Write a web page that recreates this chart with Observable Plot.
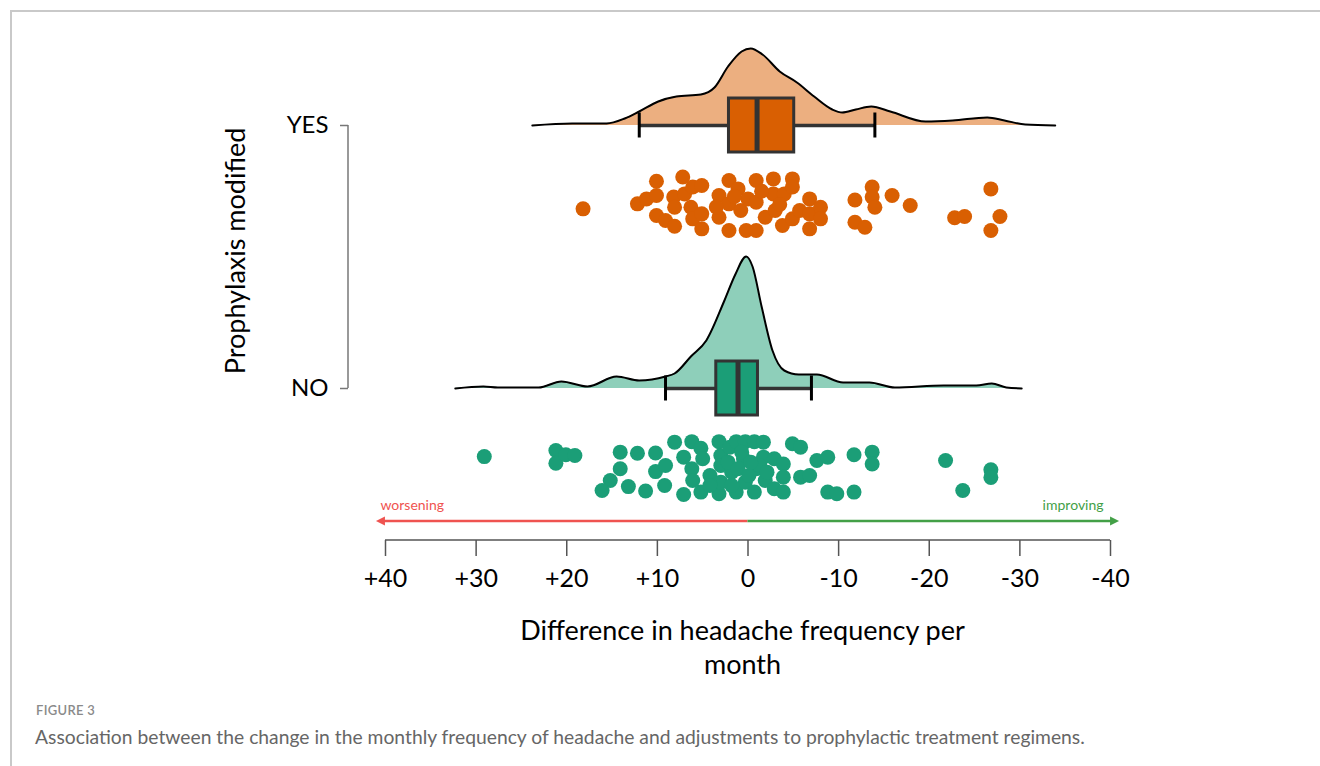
<!DOCTYPE html>
<html><head><meta charset="utf-8">
<script src="https://cdn.jsdelivr.net/npm/d3@7"></script>
<script src="https://cdn.jsdelivr.net/npm/@observablehq/plot@0.6"></script>
<style>
html,body{margin:0;padding:0;background:#fff;}
body{width:1320px;height:766px;position:relative;overflow:hidden;font-family:Lato,sans-serif;}
#frame{position:absolute;left:10px;top:10px;width:1330px;height:780px;border-top:2px solid #c9c9c9;border-left:2px solid #c9c9c9;}
#chart{position:absolute;left:0;top:0;}
#fig{position:absolute;left:36px;top:702px;font-size:13px;font-weight:600;color:#8a8a8a;letter-spacing:0.3px;}
#cap{position:absolute;left:35px;top:725px;font-size:19.3px;color:#666;white-space:nowrap;}
</style></head><body>
<div id="frame"></div>
<div id="chart"></div>
<div id="fig">FIGURE 3</div>
<div id="cap">Association between the change in the monthly frequency of headache and adjustments to prophylactic treatment regimens.</div>
<script>
// ---- data ----
const groups = ["YES", "NO"];
const groupLevels = [1, 0];
const xTicks = [40, 30, 20, 10, 0, -10, -20, -30, -40];
const xTickLabels = ["+40", "+30", "+20", "+10", "0", "-10", "-20", "-30", "-40"];
const xTitle = "Difference in headache frequency per\nmonth";
const yTitle = "Prophylaxis modified";

// individual patients (difference per month) and their vertical jitter (offset below row)
const yesDiff = [18.2, 12.2, 11.2, 10.1, 10.1, 10.1, 9.1, 8.2, 8.1, 8.1, 7.2, 7.0, 6.3, 6.1, 6.1, 5.1, 5.1, 5.1, 3.2, 3.2, 2.1, 2.1, 2.1, 1.1, 0.8, 0.2, 0.0, -0.9, -0.9, -0.9, -1.9, -2.8, -2.8, -3.0, -3.8, -4.0, -4.9, -4.9, -4.9, -5.7, -6.8, -6.8, -6.8, -8.0, -8.0, -11.8, -11.8, -12.9, -13.7, -13.7, -14.0, -15.9, -17.9, -22.8, -23.9, -26.8, -27.8, -26.8, 1.5, -1.5, 3.5, -3.5];
const yesJitter = [-0.317, -0.298, -0.279, -0.212, -0.266, -0.342, -0.361, -0.272, -0.311, -0.383, -0.196, -0.260, -0.311, -0.234, -0.355, -0.228, -0.336, -0.393, -0.266, -0.349, -0.209, -0.298, -0.399, -0.241, -0.323, -0.399, -0.279, -0.209, -0.292, -0.399, -0.349, -0.203, -0.260, -0.323, -0.380, -0.260, -0.203, -0.234, -0.355, -0.323, -0.279, -0.336, -0.393, -0.311, -0.355, -0.283, -0.368, -0.387, -0.234, -0.272, -0.311, -0.266, -0.304, -0.351, -0.346, -0.241, -0.346, -0.399, -0.27, -0.25, -0.31, -0.30];
const noDiff = [29.1, 21.2, 21.2, 20.1, 19.1, 14.1, 14.1, 15.2, 16.1, 13.2, 12.2, 11.3, 10.2, 10.2, 9.1, 9.2, 8.1, 7.1, 7.1, 6.2, 6.2, 6.1, 5.2, 5.0, 5.2, 4.2, 3.2, 3.2, 3.0, 3.0, 3.0, 2.0, 1.8, 1.3, 1.3, 0.5, 0.3, 0.3, -0.7, -0.7, -0.9, -1.7, -1.7, -1.9, -2.9, -2.9, -3.9, -3.9, -3.9, -4.9, -5.8, -5.8, -6.8, -7.6, -8.8, -8.8, -9.8, -11.7, -11.7, -13.7, -13.7, -21.8, -23.7, -26.8, -26.8, 2.2, 1.1, -0.1, -1.3, 0.7, 1.8, -0.3, 4.2, -2.1];
const noJitter = [-0.259, -0.236, -0.284, -0.252, -0.255, -0.242, -0.305, -0.350, -0.388, -0.373, -0.246, -0.390, -0.245, -0.316, -0.293, -0.369, -0.204, -0.261, -0.403, -0.202, -0.305, -0.350, -0.227, -0.267, -0.394, -0.331, -0.202, -0.400, -0.255, -0.293, -0.356, -0.223, -0.318, -0.202, -0.394, -0.267, -0.202, -0.356, -0.202, -0.394, -0.305, -0.204, -0.261, -0.350, -0.267, -0.381, -0.287, -0.337, -0.394, -0.210, -0.223, -0.337, -0.331, -0.274, -0.261, -0.394, -0.400, -0.252, -0.394, -0.242, -0.287, -0.274, -0.388, -0.309, -0.338, -0.280, -0.305, -0.331, -0.293, -0.242, -0.369, -0.280, -0.369, -0.318];

// density curves (x = difference, h = curve height)
const yesDensX = [23.8, 19.4, 15.6, 13.6, 12.0, 9.9, 7.9, 5.2, 3.7, 2.2, 0.7, -0.3, -1.6, -3.5, -5.4, -7.3, -9.3, -10.4, -11.9, -13.6, -15.7, -19.6, -22.6, -26.4, -28.3, -30.6, -33.9];
const yesDensH = [0, 2, 2, 7, 14, 24, 29, 31, 38, 59, 74, 77, 71, 54, 43, 29, 16, 13, 16, 19, 14, 4, 5, 8, 5, 1, 0];
const noDensX = [32.3, 29.2, 27.6, 23.1, 20.6, 17.7, 14.5, 12.0, 9.1, 8.1, 6.3, 4.6, 2.6, 1.4, 0.2, -0.5, -1.5, -2.7, -4.0, -5.6, -7.6, -10.5, -13.4, -16.2, -21.6, -25.2, -26.9, -28.5, -30.2];
const noDensH = [0, 2, 1, 1, 7, 2, 12, 8, 12, 15, 32, 48, 88, 114, 132, 122, 82, 38, 18, 14, 14, 6, 6, 1, 3, 3, 5, 1, 0];

// box-plot statistics per group (YES, NO)
const boxQ1 = [2.1, 3.5];
const boxMedian = [-1.0, 1.1];
const boxQ3 = [-5.1, -1.1];
const whiskerLow = [12.0, 9.1];
const whiskerHigh = [-14.0, -7.0];

// direction arrows
const arrowLabels = ["worsening", "improving"];
const arrowFrom = [0, 0];
const arrowTo = [41, -41];

// ---- styles ----
const darkColors = ["#D95F02", "#1B9E77"];
const lightColors = ["#ECAF80", "#8ECFBA"];
const arrowColors = ["#EF5350", "#43A047"];
const densityUnit = 1 / 263;
const boxHalf = 27 / 263;
const capHalf = 12.5 / 263;

const diffs = [yesDiff, noDiff];
const jitters = [yesJitter, noJitter];
const densX = [yesDensX, noDensX];
const densH = [yesDensH, noDensH];

const marks = [];
groups.forEach((g, i) => {
  const level = groupLevels[i];
  const dens = densX[i].map((x, j) => ({diff: x, base: level, top: level + densH[i][j] * densityUnit}));
  const stat = [{q1: boxQ1[i], med: boxMedian[i], q3: boxQ3[i], lo: whiskerLow[i], hi: whiskerHigh[i], level}];
  const pts = diffs[i].map((d, j) => ({diff: d, y: level + jitters[i][j]}));
  marks.push(
    Plot.areaY(dens, {x: "diff", y1: "base", y2: "top", fill: lightColors[i], curve: "monotone-x"}),
    Plot.line(dens, {x: "diff", y: "top", stroke: "black", strokeWidth: 2, curve: "monotone-x"}),
    Plot.ruleY(stat, {x1: "lo", x2: "hi", y: "level", stroke: "#333", strokeWidth: 3.5}),
    Plot.ruleX(stat, {x: "lo", y1: d => d.level - capHalf, y2: d => d.level + capHalf, stroke: "black", strokeWidth: 3}),
    Plot.ruleX(stat, {x: "hi", y1: d => d.level - capHalf, y2: d => d.level + capHalf, stroke: "black", strokeWidth: 3}),
    Plot.rect(stat, {x1: "q1", x2: "q3", y1: d => d.level - boxHalf, y2: d => d.level + boxHalf, fill: darkColors[i], stroke: "#333", strokeWidth: 3}),
    Plot.ruleX(stat, {x: "med", y1: d => d.level - boxHalf, y2: d => d.level + boxHalf, stroke: "#333", strokeWidth: 5}),
    Plot.dot(pts, {x: "diff", y: "y", r: 7.5, fill: darkColors[i]})
  );
});

const arrows = arrowLabels.map((l, i) => ({label: l, from: arrowFrom[i], to: arrowTo[i], color: arrowColors[i]}));

marks.push(
  (index, scales, values, dims) => {
    const x = scales.x, y = scales.y;
    const g = d3.create("svg:g");
    const axisY = dims.height - dims.marginBottom;
    g.append("line")
      .attr("x1", dims.marginLeft).attr("x2", dims.marginLeft)
      .attr("y1", y(groupLevels[0])).attr("y2", y(groupLevels[1]))
      .attr("stroke", "#777").attr("stroke-width", 1.5);
    g.append("line")
      .attr("x1", x(xTicks[0])).attr("x2", x(xTicks[xTicks.length - 1]))
      .attr("y1", axisY).attr("y2", axisY)
      .attr("stroke", "#555").attr("stroke-width", 1.5);
    const ay = axisY - 19;
    arrows.forEach(a => {
      const x0 = x(a.from), x1 = x(a.to);
      const s = Math.sign(x1 - x0);
      g.append("line").attr("x1", x0).attr("x2", x1 - s * 6).attr("y1", ay).attr("y2", ay)
        .attr("stroke", a.color).attr("stroke-width", 2.5);
      g.append("path")
        .attr("d", `M${x1},${ay}L${x1 - s * 9},${ay - 4.5}L${x1 - s * 9},${ay + 4.5}Z`)
        .attr("fill", a.color);
    });
    return g.node();
  },
  Plot.text([arrows[0]], {x: "to", text: "label", frameAnchor: "bottom", dy: -31, dx: 4, textAnchor: "start", fill: arrowColors[0], fontSize: 14}),
  Plot.text([arrows[1]], {x: "to", text: "label", frameAnchor: "bottom", dy: -31, dx: -16, textAnchor: "end", fill: arrowColors[1], fontSize: 14}),
  Plot.axisX({ticks: xTicks, tickFormat: d => xTickLabels[xTicks.indexOf(d)], tickSize: 16, tickPadding: 13, fontSize: 25, stroke: "#555", strokeWidth: 1.5, fill: "black", label: null}),
  Plot.axisY({ticks: groupLevels, tickFormat: d => groups[groupLevels.indexOf(d)], tickSize: 8, tickPadding: 12, fontSize: 24, stroke: "#777", strokeWidth: 1.5, fill: "black", label: null}),
  Plot.text([xTitle], {text: d => d, frameAnchor: "bottom", lineAnchor: "top", dy: 75, fontSize: 27, lineHeight: 1.26, fill: "black"}),
  Plot.text([yTitle], {text: d => d, frameAnchor: "left", textAnchor: "middle", y: () => d3.mean(groupLevels), dx: -112, dy: -6, rotate: -90, fontSize: 27, fill: "black"})
);

const chart = Plot.plot({
  width: 1320,
  height: 695,
  marginLeft: 348,
  marginRight: 184,
  marginTop: 20,
  marginBottom: 155,
  x: {domain: [40, -40], range: [385, 1110]},
  y: {domain: [0, 1], range: [388, 125]},
  style: {fontFamily: "Lato, sans-serif", background: "transparent", overflow: "visible"},
  marks
});
document.getElementById("chart").appendChild(chart);
</script>
</body></html>
